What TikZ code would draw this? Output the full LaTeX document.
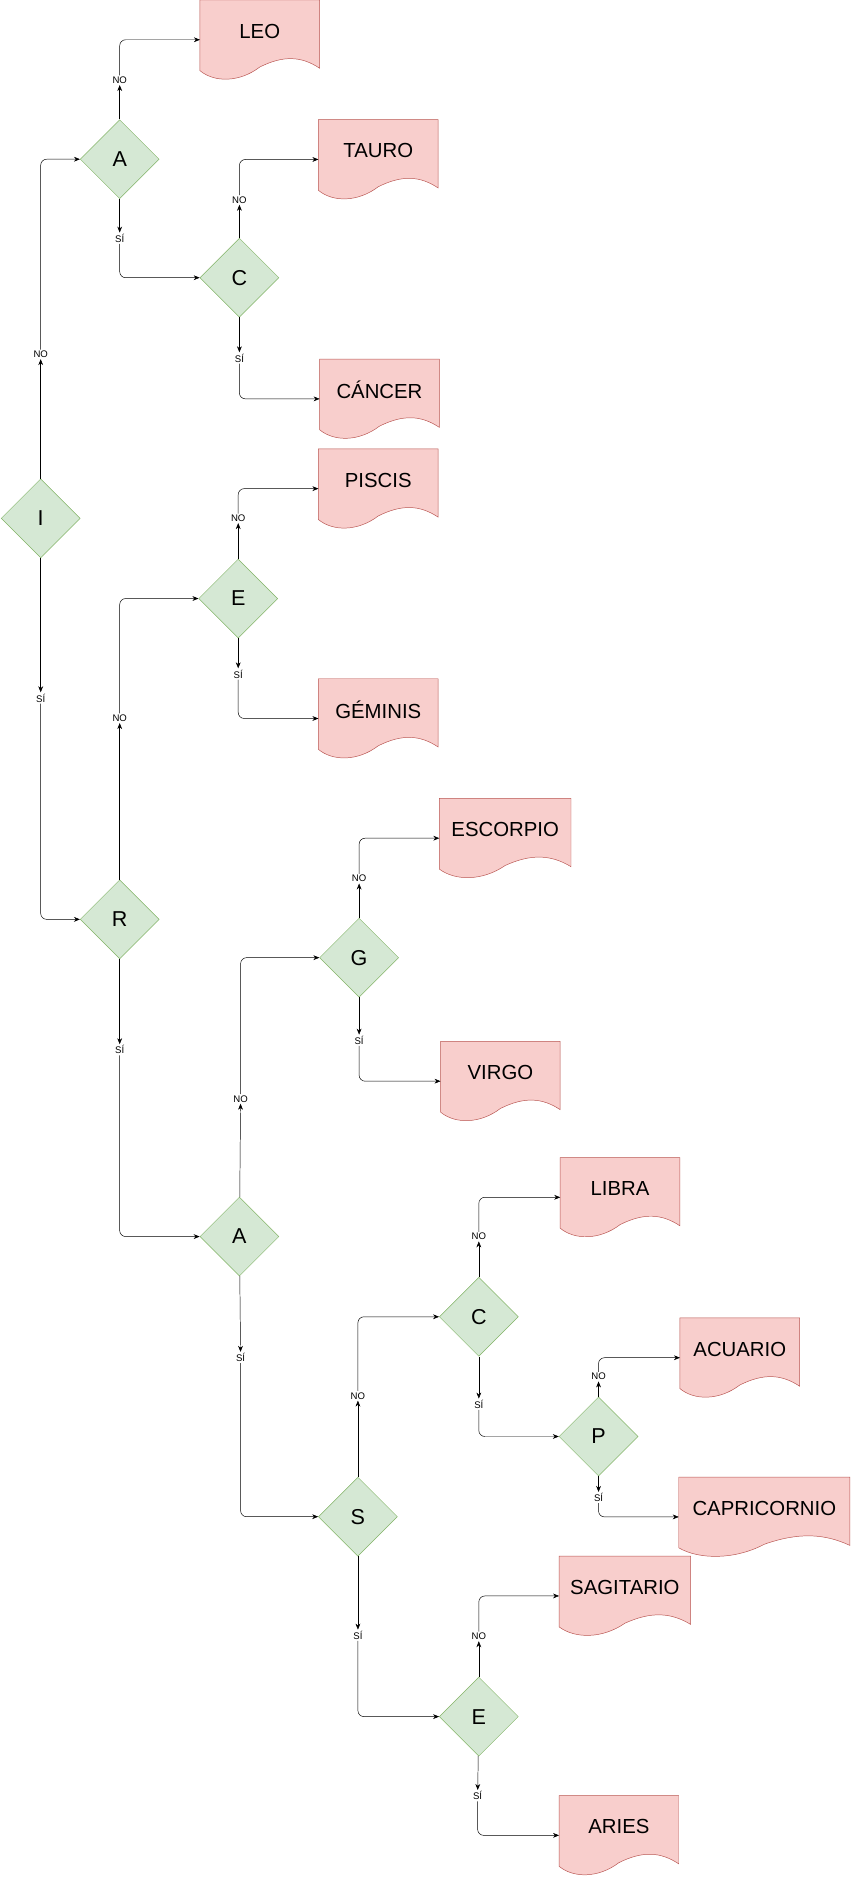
\documentclass[tikz,border=0pt]{standalone}
\usepackage{fontspec}
\setmainfont{Liberation Sans}
\usetikzlibrary{shapes.geometric,arrows.meta}
\definecolor{decfill}{HTML}{D5E8D4}
\definecolor{decline}{HTML}{82B366}
\definecolor{docfill}{HTML}{F8CECC}
\definecolor{docline}{HTML}{B85450}
\tikzset{
  decision/.style={diamond, aspect=1, draw=decline, fill=decfill, minimum size=66pt, inner sep=0pt, font=\fontsize{18}{18}\selectfont},
  answer/.style={fill=white, inner sep=1pt, font=\fontsize{8}{8}\selectfont},
  doctext/.style={font=\fontsize{17}{17}\selectfont},
  flow/.style={-{Stealth[length=5pt,width=4pt]}, rounded corners=5pt}
}
% name, left, top, width, text
\newcommand{\docnode}[5]{%
  \filldraw[draw=docline, fill=docfill] (#2,#3) -- ({#2+#4},#3) -- ({#2+#4},#3+57)
    .. controls ({#2+0.85*#4},#3+47) and ({#2+0.7*#4},#3+46) .. ({#2+0.5*#4},#3+56)
    .. controls ({#2+0.33*#4},#3+69) and ({#2+0.12*#4},#3+69) .. (#2,#3+59) -- cycle;
  \node[anchor=north west, minimum width=#4pt, minimum height=66pt, inner sep=0pt] (#1) at (#2,#3) {};
  \node[doctext] at ({#2+0.5*#4},#3+26) {#5};}
\begin{document}
\begin{tikzpicture}[x=1pt, y=-1pt]
\useasboundingbox (0,0) rectangle (711,1568);

% decisions
\node[decision] (i) at (34,433) {I};
\node[decision] (a1) at (100,133) {A};
\node[decision] (c1) at (200,232) {C};
\node[decision] (e1) at (199,500) {E};
\node[decision] (r) at (100,768) {R};
\node[decision] (g) at (300,800) {G};
\node[decision] (a2) at (200,1033) {A};
\node[decision] (c2) at (400,1100) {C};
\node[decision] (p) at (500,1200) {P};
\node[decision] (s) at (299,1267) {S};
\node[decision] (e2) at (400,1434) {E};

% results
\docnode{leo}{167}{0}{100}{LEO}
\docnode{tauro}{266}{100}{100}{TAURO}
\docnode{cancer}{267}{300}{100}{CÁNCER}
\docnode{piscis}{266}{375}{100}{PISCIS}
\docnode{geminis}{266}{567}{100}{GÉMINIS}
\docnode{escorpio}{367}{667}{110}{ESCORPIO}
\docnode{virgo}{368}{870}{100}{VIRGO}
\docnode{libra}{468}{967}{100}{LIBRA}
\docnode{acuario}{568}{1101}{100}{ACUARIO}
\docnode{capri}{567}{1234}{143}{CAPRICORNIO}
\docnode{sagi}{467}{1300}{110}{SAGITARIO}
\docnode{aries}{467}{1500}{100}{ARIES}

% answers
\node[answer] (ino) at (34,296) {NO};
\node[answer] (isi) at (34,583) {SÍ};
\node[answer] (a1no) at (100,67) {NO};
\node[answer] (a1si) at (100,199) {SÍ};
\node[answer] (c1no) at (200,167) {NO};
\node[answer] (c1si) at (200,299) {SÍ};
\node[answer] (e1no) at (199,433) {NO};
\node[answer] (e1si) at (199,563) {SÍ};
\node[answer] (rno) at (100,600) {NO};
\node[answer] (rsi) at (100,877) {SÍ};
\node[answer] (gno) at (300,734) {NO};
\node[answer] (gsi) at (300,869) {SÍ};
\node[answer] (a2no) at (201,918) {NO};
\node[answer] (a2si) at (201,1134) {SÍ};
\node[answer] (c2no) at (400,1033) {NO};
\node[answer] (c2si) at (400,1173) {SÍ};
\node[answer] (pno) at (500,1150) {NO};
\node[answer] (psi) at (500,1251) {SÍ};
\node[answer] (sno) at (299,1166) {NO};
\node[answer] (ssi) at (299,1366) {SÍ};
\node[answer] (e2no) at (400,1367) {NO};
\node[answer] (e2si) at (399,1500) {SÍ};

% connectors
\foreach \d/\l/\t in {i/ino/a1, i/isi/r, a1/a1no/leo, a1/a1si/c1, c1/c1no/tauro,
    c1/c1si/cancer, e1/e1no/piscis, e1/e1si/geminis, r/rno/e1, r/rsi/a2,
    g/gno/escorpio, g/gsi/virgo, a2/a2no/g, a2/a2si/s, c2/c2no/libra,
    c2/c2si/p, p/pno/acuario, p/psi/capri, s/sno/c2, s/ssi/e2,
    e2/e2no/sagi, e2/e2si/aries}{
  \draw[flow] (\d) -- (\l);
  \draw[flow] (\l) |- (\t.west);
}
\end{tikzpicture}
\end{document}
